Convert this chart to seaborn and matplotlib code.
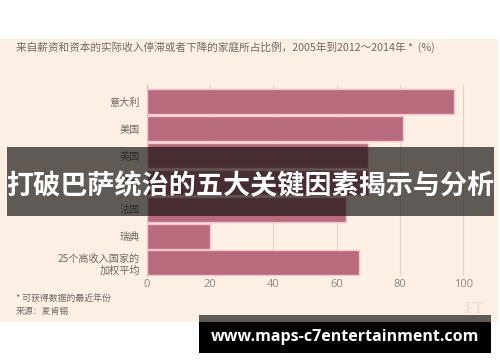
import matplotlib.pyplot as plt
from matplotlib.patches import Rectangle
import pandas as pd
import seaborn as sns

# ── Data ──────────────────────────────────────────────────────────────────────
countries = ["意大利", "美国", "英国", "荷兰", "法国", "瑞典", "25个高收入国家的\n加权平均"]
share_pct = [97, 81, 70, 70, 63, 20, 67]
x_ticks = [0, 20, 40, 60, 80, 100]

TITLE = "来自薪资和资本的实际收入停滞或者下降的家庭所占比例，2005年到2012～2014年 *  (%)"
NOTE = "* 可获得数据的最近年份"
SOURCE = "来源：麦肯锡"
BANNER = "打破巴萨统治的五大关键因素揭示与分析"
URL = "www.maps-c7entertainment.com"

BAR = "#B86B7C"
BAR_EDGE = "#F6C3CE"
PEACH = "#FDEFE3"
GRID = "#DDD3CA"
TEXT = "#6E6A66"

sns.set_theme(style="white")
plt.rcParams["font.family"] = ["Noto Sans CJK SC", "DejaVu Sans"]

df = pd.DataFrame({"country": countries, "share": share_pct})

fig = plt.figure(figsize=(5, 3.62), dpi=100, facecolor="white")
# peach chart panel, kept under the axes
fig.patches.append(Rectangle((0, (362 - 322) / 362), 498 / 500, (322 - 39) / 362,
                             transform=fig.transFigure, facecolor=PEACH, linewidth=0,
                             zorder=-5))

ax = fig.add_axes([147 / 500, (362 - 276) / 362, (479 - 147) / 500, (276 - 85) / 362])
ax.set_facecolor("none")
sns.barplot(data=df, y="country", x="share", orient="h", color=BAR, saturation=1,
            width=0.93, edgecolor=BAR_EDGE, linewidth=1.0, ax=ax, zorder=3)

ax.set_xlim(0, 105)
ax.set_ylim(6.49, -0.63)
ax.set_xticks(x_ticks)
ax.set_xticklabels([str(t) for t in x_ticks], family=["Open Sans", "DejaVu Sans"],
                   fontsize=8, color="#8C8884")
ax.tick_params(axis="x", length=0, pad=2)
ax.tick_params(axis="y", length=0, pad=5, labelsize=7.3, labelcolor=TEXT)
for lab in ax.get_yticklabels():
    lab.set_horizontalalignment("right")
    lab.set_multialignment("right")
ax.xaxis.grid(True, color=GRID, linewidth=0.8, zorder=0)
ax.set_axisbelow(True)
for side in ["top", "right", "bottom"]:
    ax.spines[side].set_visible(False)
ax.spines["left"].set_color("#BDB5AE")
ax.spines["left"].set_linewidth(0.8)
ax.set_xlabel("")
ax.set_ylabel("")

# titles and notes
fig.text(16 / 500, 1 - 47 / 362, TITLE, fontsize=7.7, color=TEXT, va="center", ha="left")
fig.text(16 / 500, 1 - 298 / 362, NOTE, fontsize=6.4, color=TEXT, va="center", ha="left")
fig.text(16 / 500, 1 - 311 / 362, SOURCE, fontsize=6.4, color=TEXT, va="center", ha="left")
fig.text(484 / 500, 1 - 309 / 362, "FT", fontsize=12, color="#E8DDD3", va="center", ha="right",
         family=["Liberation Serif", "DejaVu Serif"])

# overlay banner across the middle
fig.patches.append(Rectangle((7 / 500, (362 - 216) / 362), (494 - 7) / 500, (216 - 147) / 362,
                             transform=fig.transFigure, facecolor="#0B0B09", alpha=0.65,
                             linewidth=0, zorder=10))
fig.text(250 / 500, 1 - 186 / 362, BANNER, fontsize=19.5, fontweight="bold", color="white",
         ha="center", va="center", zorder=11)

# url box at the bottom
fig.patches.append(Rectangle((199 / 500, (362 - 322) / 362), (491 - 199) / 500, 7 / 362,
                             transform=fig.transFigure, facecolor="#5F5B56", linewidth=0,
                             zorder=10))
fig.patches.append(Rectangle((199 / 500, (362 - 353) / 362), (491 - 199) / 500, 31 / 362,
                             transform=fig.transFigure, facecolor="black", linewidth=0,
                             zorder=10))
fig.text(345 / 500, 1 - 337 / 362, URL, fontsize=11.5, fontweight="bold", color="white",
         ha="center", va="center", family=["Open Sans", "DejaVu Sans"], zorder=11)

fig.savefig("out.png", dpi=100, facecolor="white")
